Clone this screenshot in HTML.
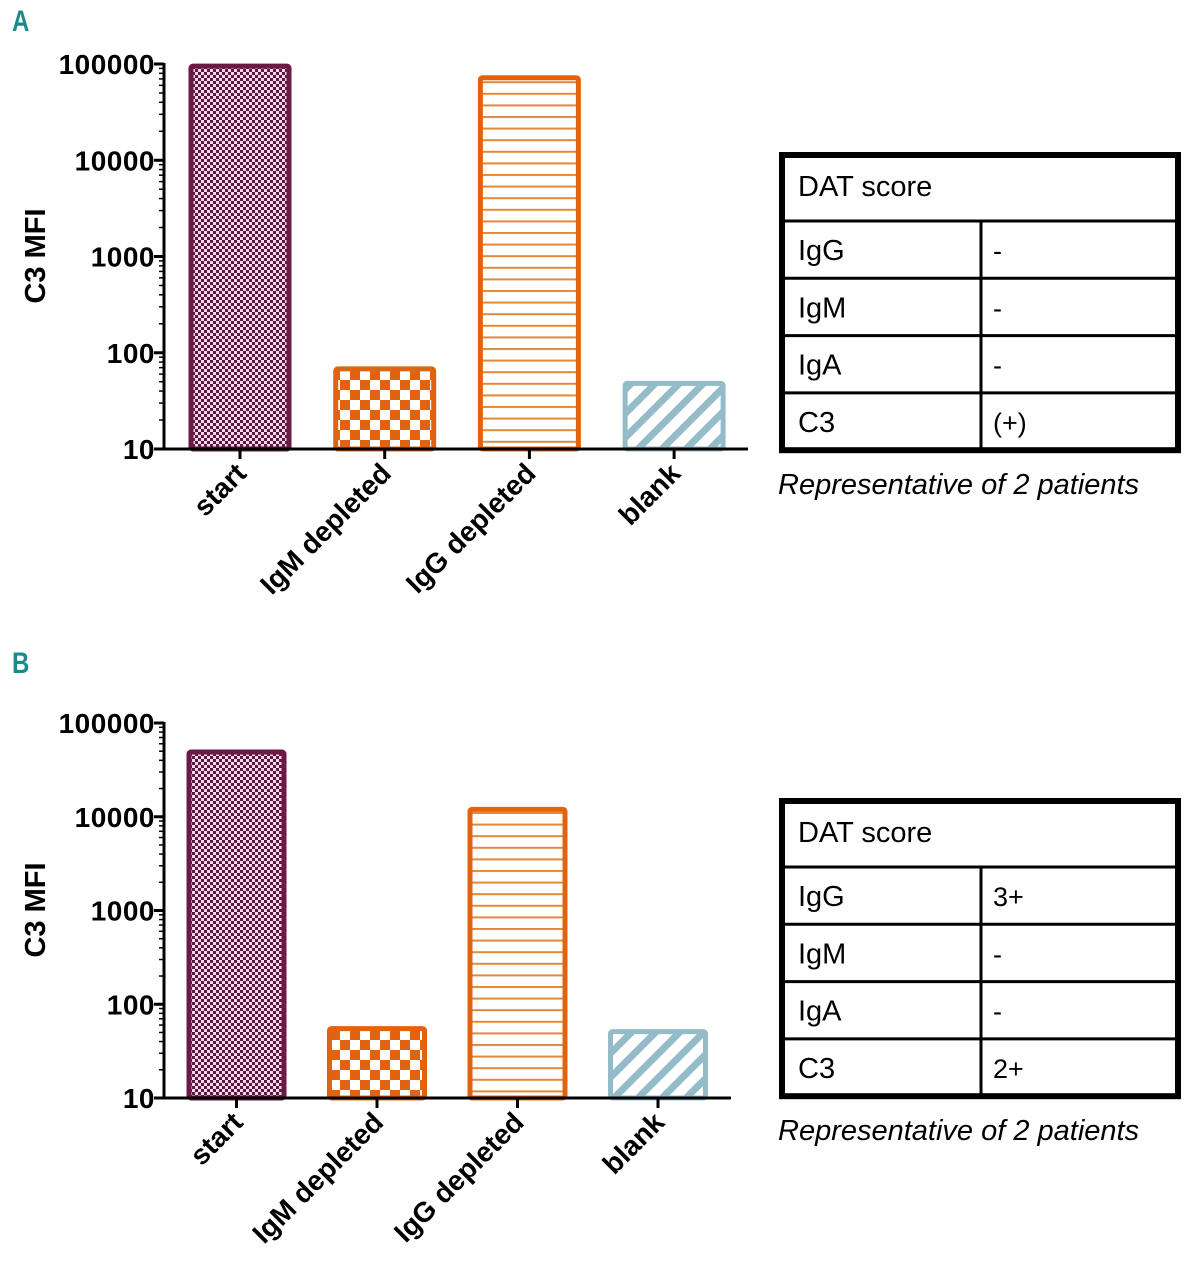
<!DOCTYPE html>
<html><head><meta charset="utf-8"><style>
html,body{margin:0;padding:0;background:#fff;}
svg{display:block;}
text{font-family:"Liberation Sans",Arial,sans-serif;}
</style></head><body>
<svg id="fig" width="1186" height="1280" viewBox="0 0 1186 1280" xmlns="http://www.w3.org/2000/svg">
<defs>
<pattern id="pStart" width="6" height="6" patternUnits="userSpaceOnUse"><rect width="6" height="6" fill="#f6d6ec"/><rect width="3" height="3" fill="#5e1a3e"/><rect x="3" y="3" width="3" height="3" fill="#5e1a3e"/></pattern>
<pattern id="pIgM" width="20" height="20" patternUnits="userSpaceOnUse"><rect width="20" height="20" fill="#fff"/><rect width="10" height="10" fill="#e2630f"/><rect x="10" y="10" width="10" height="10" fill="#e2630f"/></pattern>
<pattern id="pIgG" width="10" height="11.6" patternUnits="userSpaceOnUse"><rect width="10" height="11.6" fill="#fff"/><rect y="0" width="10" height="2" fill="#e08a3a"/></pattern>
<pattern id="pBlank" width="17" height="17" patternUnits="userSpaceOnUse" patternTransform="rotate(45)"><rect width="17" height="17" fill="#fff"/><rect width="7" height="17" fill="#94bcc8"/></pattern>
</defs>
<text x="12" y="31" font-size="30" font-weight="bold" fill="#1a8a8a" transform="translate(12,0) scale(0.8,1) translate(-12,0)">A</text>
<text x="12" y="673" font-size="30" font-weight="bold" fill="#1a8a8a" transform="translate(12,0) scale(0.8,1) translate(-12,0)">B</text>
<g id="chartA"></g>
<g id="chartB"></g>
<g id="tableA"></g>
<g id="tableB"></g>
</svg>
<script>
const categories = ["start","IgM depleted","IgG depleted","blank"];
const valuesA = [95000, 68, 72000, 48];
const valuesB = [49000, 55, 12000, 51];
const tickLabels = [10,100,1000,10000,100000];
const tableRows = ["IgG","IgM","IgA","C3"];
const scoresA = ["-","-","-","(+)"];
const scoresB = ["3+","-","-","2+"];

const NS="http://www.w3.org/2000/svg";
const fills=["url(#pStart)","url(#pIgM)","url(#pIgG)","url(#pBlank)"];
const strokes=["#6b1a45","#e2630f","#e2630f","#94bcc8"];
function mk(tag,attrs,parent){const e=document.createElementNS(NS,tag);for(const k in attrs)e.setAttribute(k,attrs[k]);parent.appendChild(e);return e;}

function drawChart(g,vals,cfg){
  const y=v=>cfg.y0-(Math.log10(v)-1)*cfg.dec;
  const x=i=>cfg.x0+i*cfg.step;
  vals.forEach((v,i)=>{
    const r=mk('rect',{x:x(i)-cfg.bw/2,y:y(v),width:cfg.bw,height:cfg.y0-y(v),fill:fills[i],stroke:strokes[i],'stroke-width':5,rx:2},g);
    
    
  });
  const ax=mk('line',{x1:cfg.ax,y1:cfg.y0+1.5,x2:cfg.ax,y2:y(100000)-1,stroke:'#000','stroke-width':3},g);
  
  
  const xa=mk('line',{x1:cfg.ax-1.5,y1:cfg.y0,x2:cfg.xend,y2:cfg.y0,stroke:'#000','stroke-width':3},g);
  
  
  for(let d=1;d<5;d++){for(let m=2;m<10;m++){const v=Math.pow(10,d)*m;mk('line',{x1:cfg.ax-5,x2:cfg.ax,y1:y(v),y2:y(v),stroke:'#000','stroke-width':1.5},g);}}
  tickLabels.forEach(t=>{
    mk('line',{x1:cfg.ax-10,x2:cfg.ax,y1:y(t),y2:y(t),stroke:'#000','stroke-width':3},g);
    const tx=mk('text',{x:cfg.ax-9,y:y(t)+10,'text-anchor':'end','font-size':28,'font-weight':'bold','letter-spacing':0.5},g);
    tx.textContent=t;
    
    
  });
  categories.forEach((c,i)=>{
    mk('line',{x1:x(i),x2:x(i),y1:cfg.y0,y2:cfg.y0+10,stroke:'#000','stroke-width':3},g);
    const tx=mk('text',{x:0,y:0,'text-anchor':'end','font-size':28,'font-weight':'bold',transform:`translate(${x(i)+8},${cfg.y0+26}) rotate(-45)`},g);
    tx.textContent=c;
    
    
  });
  const yt=mk('text',{x:0,y:0,'text-anchor':'middle','font-size':29,'font-weight':'bold',transform:`translate(45,${cfg.ymid}) rotate(-90)`},g);
  yt.textContent='C3 MFI';
  
  
}
drawChart(document.getElementById('chartA'),valuesA,{x0:240,step:144.7,bw:98,y0:449,dec:96.25,ax:164,xend:748,ymid:256});
drawChart(document.getElementById('chartB'),valuesB,{x0:236.5,step:140.5,bw:95,y0:1098,dec:93.75,ax:164,xend:731,ymid:910});

function drawTable(g,top,scores){
  const L=782,R=1178,H0=66,rh=57.3;
  const bottom=top+H0+rh*4;
  mk('rect',{x:L,y:top,width:R-L,height:bottom-top,fill:'#fff',stroke:'#000','stroke-width':6},g);
  const h=mk('text',{x:798,y:top+41,'font-size':29},g);
  h.textContent='DAT score';
  
  
  mk('line',{x1:L,x2:R,y1:top+H0,y2:top+H0,stroke:'#000','stroke-width':3},g);
  mk('line',{x1:981,x2:981,y1:top+H0,y2:bottom,stroke:'#000','stroke-width':3},g);
  tableRows.forEach((r,i)=>{
    const yy=top+H0+rh*i;
    if(i>0)mk('line',{x1:L,x2:R,y1:yy,y2:yy,stroke:'#000','stroke-width':3},g);
    const a=mk('text',{x:798,y:yy+39,'font-size':29},g);a.textContent=r;
    
    
    const b=mk('text',{x:993,y:yy+39,'font-size':27},g);b.textContent=scores[i];
    
    
  });
  const n=mk('text',{x:778,y:bottom+44,'font-size':29,'font-style':'italic'},g);
  n.textContent='Representative of 2 patients';
  
  
}
drawTable(document.getElementById('tableA'),155,scoresA);
drawTable(document.getElementById('tableB'),801,scoresB);
</script>
</body></html>
